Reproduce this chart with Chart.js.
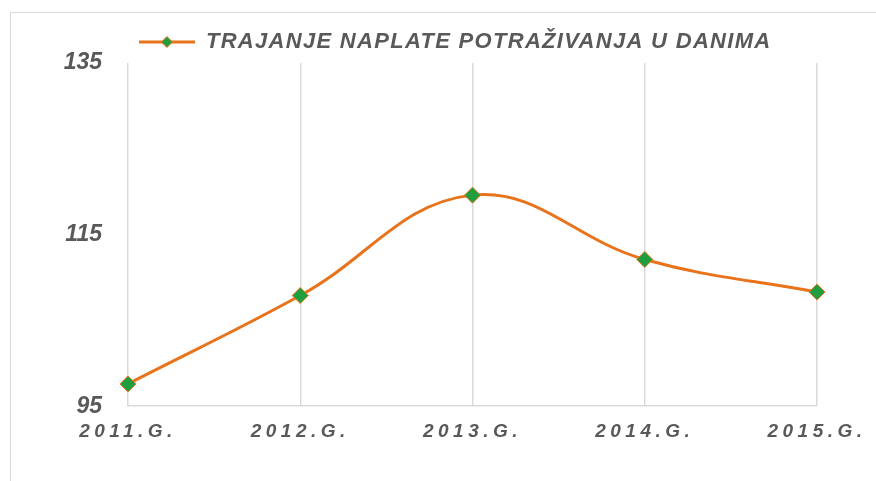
<!DOCTYPE html>
<html><head><meta charset="utf-8">
<script src="https://cdn.jsdelivr.net/npm/chart.js@4/dist/chart.umd.min.js"></script>
<style>
html,body{margin:0;padding:0;background:#fff;overflow:hidden;}
#frame{position:absolute;left:10px;top:12px;width:900px;height:500px;border:1.5px solid #d9d9d9;}
#wrap{position:absolute;left:0;top:0;width:876px;height:481px;}
</style></head>
<body>
<div id="frame"></div>
<div id="wrap"><canvas id="c" width="876" height="481"></canvas></div>
<script>
const categories = ['2011.G.', '2012.G.', '2013.G.', '2014.G.', '2015.G.'];
const seriesName = 'TRAJANJE NAPLATE POTRAŽIVANJA U DANIMA';
const values = [97.6, 107.9, 119.6, 112.1, 108.3];
const yTicks = [95, 115, 135];

const ORANGE = '#E8731A';
const GREEN = '#1E9E3E';
const TEXT = '#595959';
const GRID = '#d9d9d9';

// legend icon: line with diamond
const icon = document.createElement('canvas');
icon.width = 56; icon.height = 14;
(function(){
  const g = icon.getContext('2d');
  g.strokeStyle = ORANGE; g.lineWidth = 3;
  g.beginPath(); g.moveTo(0,7); g.lineTo(56,7); g.stroke();
  g.fillStyle = GREEN; g.strokeStyle = ORANGE; g.lineWidth = 1;
  g.beginPath(); g.moveTo(28,1.5); g.lineTo(33.5,7); g.lineTo(28,12.5); g.lineTo(22.5,7); g.closePath();
  g.fill(); g.stroke();
})();

const spacingPlugin = {
  id: 'spacing',
  beforeDraw(chart){
    const s = chart.scales.x;
    if (!s._patched){
      const orig = s.drawLabels;
      s.drawLabels = function(area){
        const ctx = this.ctx; ctx.save(); ctx.letterSpacing = '4.5px';
        orig.call(this, area); ctx.restore();
      };
      s._patched = true;
    }
    const lg = chart.legend;
    if (lg && !lg._patched){
      const o = lg.draw;
      lg.draw = function(){
        const ctx = this.ctx; ctx.save(); ctx.letterSpacing = '1.3px'; ctx.translate(22, 0);
        o.call(this); ctx.restore();
      };
      lg._patched = true;
    }
  }
};

new Chart(document.getElementById('c'), {
  type: 'line',
  data: {
    labels: categories,
    datasets: [{
      label: seriesName,
      data: values,
      borderColor: ORANGE,
      borderWidth: 3,
      tension: 0.4,
      cubicInterpolationMode: 'default',
      pointStyle: 'rectRot',
      pointRadius: 8,
      pointBackgroundColor: GREEN,
      pointBorderColor: ORANGE,
      pointBorderWidth: 1
    }]
  },
  options: {
    responsive: false,
    animation: false,
    layout: { padding: { left: 0, right: 59, top: 23, bottom: 24 } },
    plugins: {
      tooltip: { enabled: false },
      legend: {
        position: 'top',
        align: 'center',
        labels: {
          usePointStyle: true,
          pointStyle: icon,
          pointStyleWidth: 56,
          boxHeight: 14,
          padding: 8,
          color: TEXT,
          font: { family: 'Liberation Sans, Arial, sans-serif', size: 22, style: 'italic', weight: 'bold' },
          generateLabels(chart){
            return [{ text: seriesName, pointStyle: icon, fillStyle: GREEN, strokeStyle: ORANGE, lineWidth: 0, fontColor: TEXT, datasetIndex: 0 }];
          }
        }
      }
    },
    scales: {
      x: {
        offset: false,
        grid: { display: true, color: GRID, lineWidth: 1.5, drawTicks: false },
        border: { display: true, color: GRID, width: 1.5 },
        ticks: {
          color: TEXT, padding: 14, maxRotation: 0,
          font: { family: 'Liberation Sans, Arial, sans-serif', size: 19, style: 'italic', weight: 'bold' }
        }
      },
      y: {
        min: 95, max: 135,
        afterBuildTicks(scale){ scale.ticks = yTicks.map(v => ({ value: v })); },
        afterFit(scale){ scale.width = 128; },
        grid: { display: false },
        border: { display: false },
        ticks: {
          color: TEXT, padding: 18,
          font: { family: 'Liberation Sans, Arial, sans-serif', size: 23, style: 'italic', weight: 'bold' }
        }
      }
    }
  },
  plugins: [spacingPlugin]
});
</script>
</body></html>
